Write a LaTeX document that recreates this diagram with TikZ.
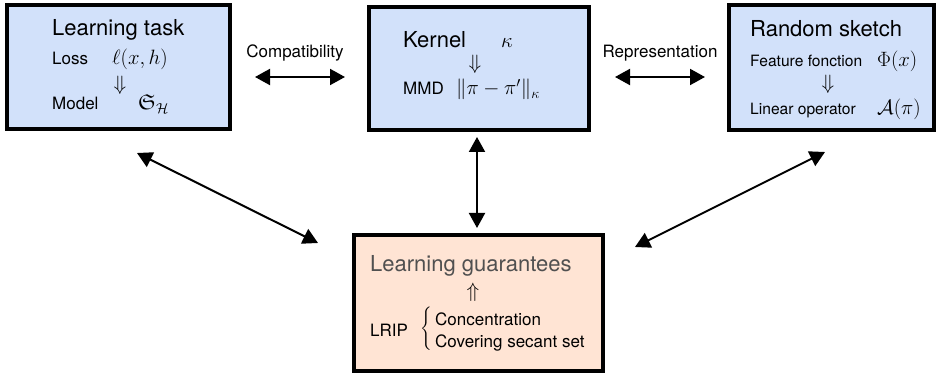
\documentclass[tikz,border=0pt]{standalone}
\usepackage{amsmath,amssymb}
\usepackage[no-math]{fontspec}
\setmainfont{TeX Gyre Heros}
\usetikzlibrary{arrows.meta}
\definecolor{boxblue}{RGB}{210,225,250}
\definecolor{boxpeach}{RGB}{255,228,212}
\definecolor{guartxt}{RGB}{80,80,80}
\newcommand\bigtxt{\fontsize{22}{26}\selectfont}
\newcommand\smtxt{\fontsize{17}{20}\selectfont}
\newcommand\sktxt{\fontsize{15.6}{19}\selectfont}
\newcommand\mtxt{\fontsize{21.5}{25}\selectfont}
\newcommand\arrtxt{\fontsize{20}{24}\selectfont}
\newcommand\bracetxt{\fontsize{14.5}{17}\selectfont}
\begin{document}
\begin{tikzpicture}[x=1pt,y=-1pt,
  panel/.style={draw=black,line width=4pt,rectangle,inner sep=0pt,outer sep=0pt},
  bluepanel/.style={panel,fill=boxblue},
  peachpanel/.style={panel,fill=boxpeach},
  ttl/.style={anchor=base west,inner sep=0pt,font=\bigtxt},
  lbl/.style={anchor=base west,inner sep=0pt,font=\smtxt},
  sklbl/.style={anchor=base west,inner sep=0pt,font=\sktxt},
  mth/.style={anchor=base west,inner sep=0pt,font=\mtxt},
  implies/.style={anchor=center,inner sep=0pt,font=\arrtxt},
  link/.style={line width=2pt,{Triangle[length=15pt,width=16pt]}-{Triangle[length=15pt,width=16pt]}}
]
\useasboundingbox (0,0) rectangle (943,374);

% panels
\node[bluepanel,minimum width=223pt,minimum height=124pt] (task) at (118.5,67) {};
\node[bluepanel,minimum width=220pt,minimum height=123pt] (kern) at (479,69) {};
\node[bluepanel,minimum width=205pt,minimum height=125pt] (sketch) at (831.5,67.5) {};
\node[peachpanel,minimum width=249pt,minimum height=136pt] (guar) at (478.5,303) {};

% learning task
\node[ttl] (taskT) at (52,36) {Learning task};
\node[lbl] (lossL) at (52,65) {Loss};
\node[mth] (lossM) at (112,65) {$\ell(x,h)$};
\node[implies] (taskI) at (120,85) {$\Downarrow$};
\node[lbl] (modL) at (52,110) {Model};
\node[mth] (modM) at (138,110) {$\mathfrak{S}_{\mathcal{H}}$};

% kernel
\node[ttl] (kernT) at (403,48) {Kernel};
\node[mth,anchor=base] (kernM) at (507,48) {$\kappa$};
\node[implies] (kernI) at (475,64) {$\Downarrow$};
\node[lbl] (mmdL) at (403,95) {MMD};
\node[mth] (mmdM) at (456,95) {$\|\pi-\pi'\|_{\kappa}$};

% random sketch
\node[ttl] (skT) at (750,37) {Random sketch};
\node[sklbl] (featL) at (750,67) {Feature fonction};
\node[mth] (featM) at (877,67) {$\Phi(x)$};
\node[implies] (skI) at (828,84) {$\Downarrow$};
\node[sklbl] (linL) at (750,115) {Linear operator};
\node[mth] (linM) at (877,115) {$\mathcal{A}(\pi)$};

% guarantees
\node[ttl,text=guartxt] (guarT) at (370,272) {Learning guarantees};
\node[implies] (guarI) at (473,292) {$\Uparrow$};
\node[lbl] (lrip) at (370,337) {LRIP};
\node[anchor=west,inner sep=0pt,font=\bracetxt] (brace) at (420,328.5) {$\Bigg\{$};
\node[lbl] (conc) at (435,325) {Concentration};
\node[lbl] (cov) at (435,347) {Covering secant set};

% link labels
\node[anchor=base,inner sep=0pt,font=\smtxt] (compL) at (295,58) {Compatibility};
\node[anchor=base,inner sep=0pt,font=\smtxt] (repL) at (660,58) {Representation};

% connector end points
\coordinate (c1) at (255,77);
\coordinate (c2) at (345,77);
\coordinate (r1) at (615,77);
\coordinate (r2) at (705,77);
\coordinate (v1) at (477,137);
\coordinate (v2) at (477,228);
\coordinate (l1) at (137,153);
\coordinate (l2) at (318,243);
\coordinate (q1) at (825,152);
\coordinate (q2) at (635,247);

\draw[link] (c1) -- (c2);
\draw[link] (r1) -- (r2);
\draw[link] (v1) -- (v2);
\draw[link] (l1) -- (l2);
\draw[link] (q1) -- (q2);
\end{tikzpicture}
\end{document}
